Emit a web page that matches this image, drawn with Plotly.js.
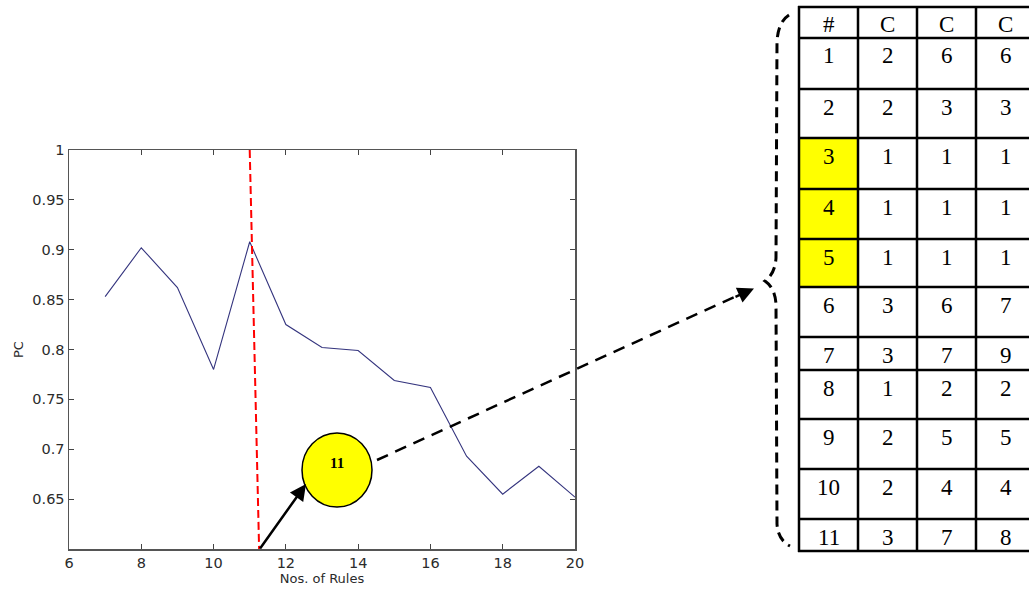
<!DOCTYPE html>
<html>
<head>
<meta charset="utf-8">
<script src="https://cdn.plot.ly/plotly-3.0.1.min.js"></script>
<style>
  html, body { margin: 0; padding: 0; background: #ffffff; }
  #chart { width: 1029px; height: 591px; }
</style>
</head>
<body>
<div id="chart"></div>
<script>
// ---------------- data ----------------
var nosOfRules = [7, 8, 9, 10, 11, 12, 13, 14, 15, 16, 17, 18, 19, 20];
var pcValues   = [0.853, 0.902, 0.862, 0.780, 0.908, 0.825, 0.802, 0.799, 0.769, 0.762, 0.693, 0.655, 0.683, 0.652];

var xTickVals  = [6, 8, 10, 12, 14, 16, 18, 20];
var xTickText  = ['6', '8', '10', '12', '14', '16', '18', '20'];
var yTickVals  = [0.65, 0.7, 0.75, 0.8, 0.85, 0.9, 0.95, 1];
var yTickText  = ['0.65', '0.7', '0.75', '0.8', '0.85', '0.9', '0.95', '1'];

var cutLineX   = [11.0, 11.26];   // red dashed cut line, rules axis
var cutLineY   = [1.0, 0.6];
var selectedRules = '11';

var tableHeader = ['#', 'C', 'C', 'C'];
var ruleIds     = ['1', '2', '3', '4', '5', '6', '7', '8', '9', '10', '11'];
var colC1       = ['2', '2', '1', '1', '1', '3', '3', '1', '2', '2', '3'];
var colC2       = ['6', '3', '1', '1', '1', '6', '7', '2', '5', '4', '7'];
var colC3       = ['6', '3', '1', '1', '1', '7', '9', '2', '5', '4', '8'];
var highlightedRules = ['3', '4', '5'];

// ---------------- layout helpers (pixel -> paper) ----------------
var W = 1029, H = 591;
function px(x) { return x / W; }
function py(y) { return 1 - y / H; }

var plotL = 69, plotR = 575, plotT = 150, plotB = 549;

var shapes = [];
var annotations = [];

// red dashed cut line (data coordinates)
shapes.push({
  type: 'line', xref: 'x', yref: 'y',
  x0: cutLineX[0], y0: cutLineY[0], x1: cutLineX[1], y1: cutLineY[1],
  line: { color: '#ff0000', width: 2, dash: '8px,4px' }
});

// black arrow from cut-line foot to the circle
annotations.push({
  xref: 'paper', yref: 'paper', x: px(306), y: py(484),
  axref: 'pixel', ayref: 'pixel', ax: 259 - 306, ay: 550 - 484,
  text: '', showarrow: true, arrowhead: 2, arrowsize: 1.3, arrowwidth: 2.5, arrowcolor: '#000000'
});

// yellow circle with label
shapes.push({
  type: 'circle', xref: 'paper', yref: 'paper',
  x0: px(302), x1: px(372), y0: py(507), y1: py(433),
  fillcolor: '#ffff00', line: { color: '#000000', width: 1.5 }
});
annotations.push({
  xref: 'paper', yref: 'paper', x: px(337), y: py(463),
  xanchor: 'center', yanchor: 'middle',
  text: '<b>' + selectedRules + '</b>', showarrow: false,
  font: { family: 'Liberation Serif, Times New Roman, serif', size: 15, color: '#000000' }
});

// dashed connector to the table
shapes.push({
  type: 'line', xref: 'paper', yref: 'paper',
  x0: px(377), y0: py(460), x1: px(742), y1: py(293.5),
  line: { color: '#000000', width: 2.5, dash: '12px,8px' }
});
annotations.push({
  xref: 'paper', yref: 'paper', x: px(754), y: py(288.5),
  axref: 'pixel', ayref: 'pixel', ax: -20, ay: 9,
  text: '', showarrow: true, arrowhead: 2, arrowsize: 1.3, arrowwidth: 2.5, arrowcolor: '#000000'
});

// curly brace (dashed)
var bracePts = [
  'M', px(789), py(15),
  'Q', px(778), py(22), px(777), py(42),
  'L', px(776), py(258),
  'Q', px(775), py(274), px(765), py(281),
  'Q', px(775), py(288), px(776), py(304),
  'L', px(777), py(524),
  'Q', px(778), py(540), px(790), py(546)
];
var bracePath = '';
for (var i = 0; i < bracePts.length; i++) {
  var v = bracePts[i];
  bracePath += (typeof v === 'number' ? (i > 0 && typeof bracePts[i - 1] === 'number' ? ',' : ' ') + v.toFixed(5) : ' ' + v);
}
shapes.push({
  type: 'path', xref: 'paper', yref: 'paper', path: bracePath.trim(),
  line: { color: '#000000', width: 3, dash: '10px,6px' }
});

// ---------------- table ----------------
var colEdges = [799, 858, 917, 976, 1035];
var rowEdges = [7, 38, 89, 138, 189, 239, 287, 337, 370, 419, 469, 519, 551];
var tableFont = { family: 'Liberation Serif, Times New Roman, serif', size: 23, color: '#000000' };

// highlighted cells
for (var r = 0; r < ruleIds.length; r++) {
  if (highlightedRules.indexOf(ruleIds[r]) >= 0) {
    shapes.push({
      type: 'rect', xref: 'paper', yref: 'paper',
      x0: px(colEdges[0]), x1: px(colEdges[1]), y0: py(rowEdges[r + 2]), y1: py(rowEdges[r + 1]),
      fillcolor: '#ffff00', line: { width: 0 }
    });
  }
}
// grid lines
for (var c = 0; c < colEdges.length; c++) {
  shapes.push({
    type: 'line', xref: 'paper', yref: 'paper',
    x0: px(colEdges[c]), x1: px(colEdges[c]), y0: py(rowEdges[0] - 1), y1: py(rowEdges[rowEdges.length - 1] + 1),
    line: { color: '#000000', width: 2.5 }
  });
}
for (var k = 0; k < rowEdges.length; k++) {
  shapes.push({
    type: 'line', xref: 'paper', yref: 'paper',
    x0: px(colEdges[0] - 1), x1: px(colEdges[colEdges.length - 1]), y0: py(rowEdges[k]), y1: py(rowEdges[k]),
    line: { color: '#000000', width: 2.5 }
  });
}
// cell texts
var columns = [ruleIds, colC1, colC2, colC3];
function cellText(cIdx, rIdx, txt) {
  annotations.push({
    xref: 'paper', yref: 'paper',
    x: px((colEdges[cIdx] + colEdges[cIdx + 1]) / 2), y: py(rowEdges[rIdx] + 18),
    xanchor: 'center', yanchor: 'middle',
    text: txt, showarrow: false, font: tableFont
  });
}
for (var h = 0; h < tableHeader.length; h++) cellText(h, 0, tableHeader[h]);
for (var cc = 0; cc < columns.length; cc++) {
  for (var rr = 0; rr < columns[cc].length; rr++) cellText(cc, rr + 1, columns[cc][rr]);
}

// ---------------- traces ----------------
var traces = [{
  type: 'scatter', mode: 'lines',
  x: nosOfRules, y: pcValues,
  line: { color: '#34347e', width: 1.1 },
  hoverinfo: 'skip', showlegend: false
}];

var axisFont = { family: 'DejaVu Sans, sans-serif', size: 14.5, color: '#2b2b2b' };

var layout = {
  width: W, height: H,
  margin: { l: 0, r: 0, t: 0, b: 0 },
  paper_bgcolor: '#ffffff', plot_bgcolor: '#ffffff',
  showlegend: false,
  xaxis: {
    domain: [px(plotL), px(plotR)],
    range: [6, 20], tickvals: xTickVals, ticktext: xTickText,
    ticks: 'inside', ticklen: 5, tickcolor: '#444444', tickwidth: 1,
    showline: true, linecolor: '#555555', linewidth: 1.5, mirror: 'ticks',
    showgrid: false, zeroline: false,
    tickfont: axisFont,
    title: { text: 'Nos. of Rules', font: { family: 'DejaVu Sans, sans-serif', size: 13, color: '#2b2b2b' }, standoff: 2 }
  },
  yaxis: {
    domain: [py(plotB), py(plotT)],
    range: [0.6, 1], tickvals: yTickVals, ticktext: yTickText,
    ticks: 'inside', ticklen: 5, tickcolor: '#444444', tickwidth: 1,
    showline: true, linecolor: '#555555', linewidth: 1.5, mirror: 'ticks',
    showgrid: false, zeroline: false,
    tickfont: axisFont,
    title: { text: 'PC', font: { family: 'DejaVu Sans, sans-serif', size: 13, color: '#2b2b2b' }, standoff: 6 }
  },
  shapes: shapes,
  annotations: annotations
};

Plotly.newPlot('chart', traces, layout, { displayModeBar: false, staticPlot: true });
</script>
</body>
</html>
